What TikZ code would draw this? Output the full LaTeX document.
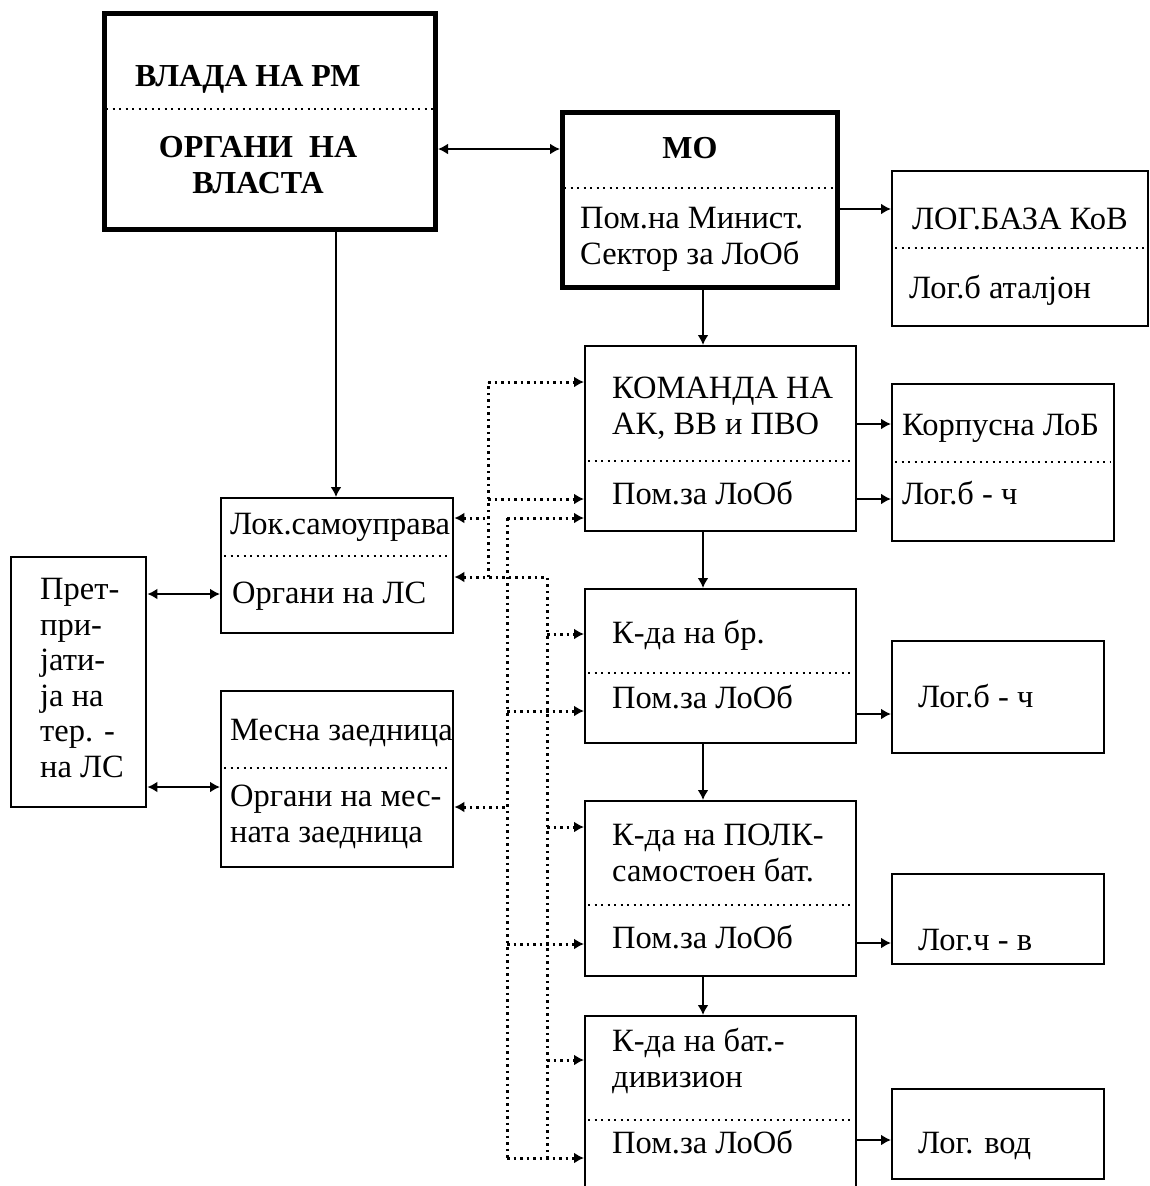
\documentclass[tikz,border=0pt]{standalone}
\usepackage{fontspec}
\setmainfont{Liberation Serif}
\usetikzlibrary{arrows.meta}

\begin{document}
\begin{tikzpicture}
	[x=1pt, y=-1pt,
	>={Latex[length=10pt,width=11pt]},
	box/.style={draw, line width=2.4pt, anchor=north west, inner sep=0pt},
	mainbox/.style={box, line width=5pt},
	txt/.style={anchor=base west, inner sep=0pt, align=left, font=\fontsize{32.5}{35.5}\selectfont},
	boldtxt/.style={txt, font=\fontsize{32}{35.5}\selectfont\bfseries},
	div/.style={line width=2pt, dash pattern=on 2pt off 4.5pt},
	link/.style={line width=2pt, ->},
	dots/.style={link, line width=3pt, dash pattern=on 2.5pt off 4pt}]
	\useasboundingbox (0,0) rectangle (1150,1186);
	% boxes
	\node[mainbox, minimum width=331pt, minimum height=216pt] (vlada) at (102,11) {};
	\node[mainbox, minimum width=275pt, minimum height=175pt] (mo) at (560,110) {};
	\node[box, minimum width=256pt, minimum height=155pt] (baza) at (891,170) {};
	\node[box, minimum width=271pt, minimum height=185pt] (kom) at (584,345) {};
	\node[box, minimum width=222pt, minimum height=157pt] (korp) at (891,383) {};
	\node[box, minimum width=271pt, minimum height=154pt] (br) at (584,588) {};
	\node[box, minimum width=212pt, minimum height=112pt] (lbc) at (891,640) {};
	\node[box, minimum width=271pt, minimum height=175pt] (polk) at (584,800) {};
	\node[box, minimum width=212pt, minimum height=90pt] (lcv) at (891,873) {};
	\node[box, minimum width=271pt, minimum height=220pt] (bat) at (584,1015) {};
	\node[box, minimum width=212pt, minimum height=90pt] (vod) at (891,1088) {};
	\node[box, minimum width=232pt, minimum height=135pt] (lok) at (220,497) {};
	\node[box, minimum width=232pt, minimum height=176pt] (mes) at (220,690) {};
	\node[box, minimum width=135pt, minimum height=250pt] (pret) at (10,556) {};
	% dotted dividers
	\foreach \b/\y in {vlada/109, mo/188, baza/248, kom/461, korp/462, br/673, polk/905, bat/1120, lok/556, mes/768}
		\draw[div] ([xshift=4pt]\b.west |- 0,\y) -- ([xshift=-4pt]\b.east |- 0,\y);
	% texts
	\node[boldtxt] (vladaT) at (135,86) {ВЛАДА НА РМ};
	\node[boldtxt, align=center, anchor=base] (vladaB) at (258,193) {ОРГАНИ~~НА\\ВЛАСТА};
	\node[boldtxt, anchor=base] (moT) at (690,158) {МО};
	\node[txt] (moB) at (580,264) {Пом.на Минист.\\Сектор за ЛоОб};
	\node[txt] (bazaT) at (912,229) {ЛОГ.БАЗА КоВ};
	\node[txt] (bazaB) at (909,298) {Лог.б аталјон};
	\node[txt] (komT) at (612,434) {КОМАНДА НА\\АК, ВВ и ПВО};
	\node[txt] (komB) at (612,504) {Пом.за ЛоОб};
	\node[txt] (korpT) at (902,435) {Корпусна ЛоБ};
	\node[txt] (korpB) at (902,504) {Лог.б - ч};
	\node[txt] (brT) at (612,643) {К-да на бр.};
	\node[txt] (brB) at (612,708) {Пом.за ЛоОб};
	\node[txt] (lbcT) at (918,707) {Лог.б - ч};
	\node[txt] (polkT) at (612,881) {К-да на ПОЛК-\\самостоен бат.};
	\node[txt] (polkB) at (612,948) {Пом.за ЛоОб};
	\node[txt] (lcvT) at (918,950) {Лог.ч - в};
	\node[txt] (batT) at (612,1087) {К-да на бат.-\\дивизион};
	\node[txt] (batB) at (612,1153) {Пом.за ЛоОб};
	\node[txt] (vodT) at (918,1153) {Лог. вод};
	\node[txt] (lokT) at (230,534) {Лок.самоуправа};
	\node[txt] (lokB) at (232,603) {Органи на ЛС};
	\node[txt] (mesT) at (230,740) {Месна заедница};
	\node[txt] (mesB) at (230,842) {Органи на мес-\\ната заедница};
	\node[txt] (pretT) at (40,777) {Прет-\\при-\\јати-\\ја на\\тер. -\\на ЛС};
	% solid links
	\draw[link, <->] (vlada.east |- 0,149) -- (mo.west |- 0,149);
	\draw[link] (mo.east |- 0,209) -- (baza.west |- 0,209);
	\draw[link] (vlada.south -| 336,0) -- (lok.north -| 336,0);
	\draw[link] (mo.south -| 703,0) -- (kom.north -| 703,0);
	\draw[link] (kom.south -| 703,0) -- (br.north -| 703,0);
	\draw[link] (br.south -| 703,0) -- (polk.north -| 703,0);
	\draw[link] (polk.south -| 703,0) -- (bat.north -| 703,0);
	\foreach \a/\b/\y in {kom/korp/424, kom/korp/499, br/lbc/714, polk/lcv/943, bat/vod/1140}
		\draw[link] (\a.east |- 0,\y) -- (\b.west |- 0,\y);
	\draw[link, <->] (pret.east |- 0,594) -- (lok.west |- 0,594);
	\draw[link, <->] (pret.east |- 0,787) -- (mes.west |- 0,787);
	% dotted links
	\coordinate (trA) at (488,0);
	\coordinate (trB) at (507,0);
	\coordinate (trC) at (547,0);
	\draw[dots, <-] (lok.east |- 0,577) -- (trC |- 0,577) -- (trC |- 0,1158);
	\draw[dots, -] (trA |- 0,577) -- (trA |- 0,382);
	\draw[dots, <-] (lok.east |- 0,518) -- (trA |- 0,518);
	\draw[dots, <-] (mes.east |- 0,807) -- (trB |- 0,807);
	\draw[dots, -] (trB |- 0,518) -- (trB |- 0,1158);
	\foreach \n/\y in {kom/382, kom/499}
		\draw[dots] (trA |- 0,\y) -- (\n.west |- 0,\y);
	\foreach \n/\y in {kom/518, br/711, polk/944, bat/1158}
		\draw[dots] (trB |- 0,\y) -- (\n.west |- 0,\y);
	\foreach \n/\y in {br/634, polk/827, bat/1060}
		\draw[dots] (trC |- 0,\y) -- (\n.west |- 0,\y);
\end{tikzpicture}
\end{document}
